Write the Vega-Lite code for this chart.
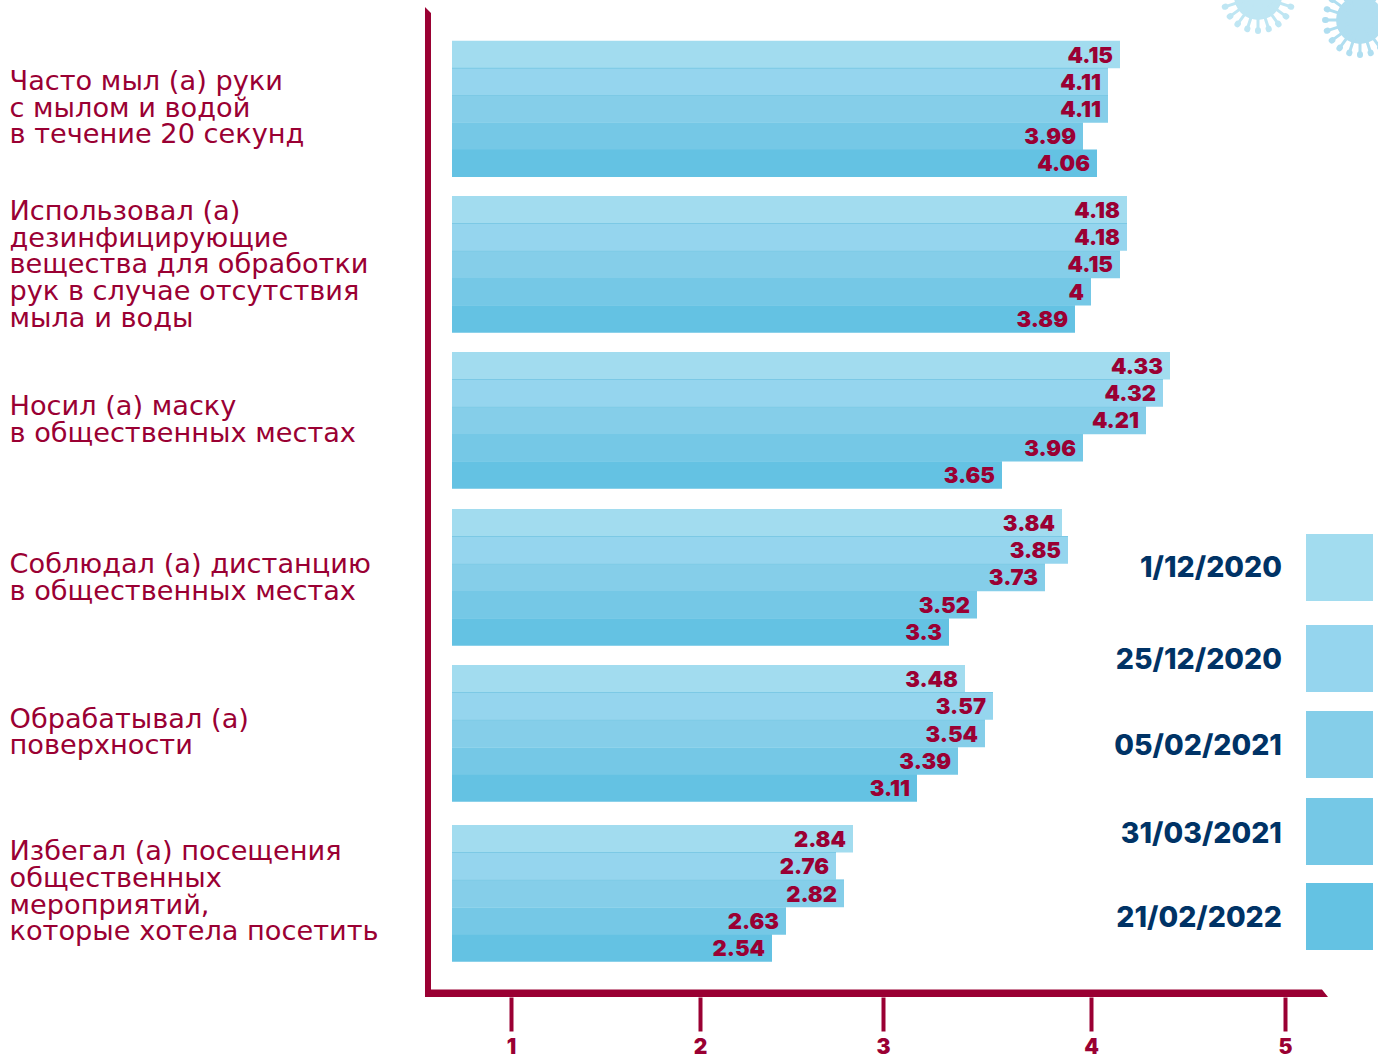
{
"$schema":"https://vega.github.io/schema/vega-lite/v6.json",
"width":1378,"height":1056,"autosize":"none","padding":0,"background":"#ffffff",
"config":{"view":{"stroke":null}},
"datasets":{
"rows":[
{"row":1,"date":"1/12/2020","value":4.15},{"row":2,"date":"25/12/2020","value":4.11},{"row":3,"date":"05/02/2021","value":4.11},{"row":4,"date":"31/03/2021","value":3.99},{"row":5,"date":"21/02/2022","value":4.06},
{"row":6,"date":"1/12/2020","value":4.18},{"row":7,"date":"25/12/2020","value":4.18},{"row":8,"date":"05/02/2021","value":4.15},{"row":9,"date":"31/03/2021","value":4},{"row":10,"date":"21/02/2022","value":3.89},
{"row":11,"date":"1/12/2020","value":4.33},{"row":12,"date":"25/12/2020","value":4.32},{"row":13,"date":"05/02/2021","value":4.21},{"row":14,"date":"31/03/2021","value":3.96},{"row":15,"date":"21/02/2022","value":3.65},
{"row":16,"date":"1/12/2020","value":3.84},{"row":17,"date":"25/12/2020","value":3.85},{"row":18,"date":"05/02/2021","value":3.73},{"row":19,"date":"31/03/2021","value":3.52},{"row":20,"date":"21/02/2022","value":3.3},
{"row":21,"date":"1/12/2020","value":3.48},{"row":22,"date":"25/12/2020","value":3.57},{"row":23,"date":"05/02/2021","value":3.54},{"row":24,"date":"31/03/2021","value":3.39},{"row":25,"date":"21/02/2022","value":3.11},
{"row":26,"date":"1/12/2020","value":2.84},{"row":27,"date":"25/12/2020","value":2.76},{"row":28,"date":"05/02/2021","value":2.82},{"row":29,"date":"31/03/2021","value":2.63},{"row":30,"date":"21/02/2022","value":2.54}
],
"lines":[
{"line":1,"label":"Часто мыл (а) руки"},{"line":2,"label":"с мылом и водой"},{"line":3,"label":"в течение 20 секунд"},
{"line":4,"label":"Использовал (а)"},{"line":5,"label":"дезинфицирующие"},{"line":6,"label":"вещества для обработки"},{"line":7,"label":"рук в случае отсутствия"},{"line":8,"label":"мыла и воды"},
{"line":9,"label":"Носил (а) маску"},{"line":10,"label":"в общественных местах"},
{"line":11,"label":"Соблюдал (а) дистанцию"},{"line":12,"label":"в общественных местах"},
{"line":13,"label":"Обрабатывал (а)"},{"line":14,"label":"поверхности"},
{"line":15,"label":"Избегал (а) посещения"},{"line":16,"label":"общественных"},{"line":17,"label":"мероприятий,"},{"line":18,"label":"которые хотела посетить"}
],
"legend":[{"order":1,"date":"1/12/2020"},{"order":2,"date":"25/12/2020"},{"order":3,"date":"05/02/2021"},{"order":4,"date":"31/03/2021"},{"order":5,"date":"21/02/2022"}],
"ticks":[{"tick":1},{"tick":2},{"tick":3},{"tick":4},{"tick":5}],
"virus":[{"virus":1},{"virus":2}]
},
"resolve":{"scale":{"x":"independent","y":"independent","color":"independent"}},
"layer":[
{"data":{"name":"rows"},"mark":{"type":"bar","orient":"horizontal","height":27.5},
 "encoding":{
  "y":{"field":"row","type":"quantitative","axis":null,"scale":{"domain":[0,1,2,3,4,5,6,7,8,9,10,11,12,13,14,15,16,17,18,19,20,21,22,23,24,25,26,27,28,29,30,31],"range":[27.4,54.6,81.8,109,136.2,163.2,209.7,237,264.4,291.7,319,365.7,393,420.4,447.8,475,522.7,550,577.4,604.8,632,678.7,706,733.5,761,788,838.7,866,893.5,921,948,975.4]}},
  "x":{"field":"value","type":"quantitative","axis":null,"scale":{"domain":[0,2.54,2.63,2.76,2.82,2.84,3.11,3.3,3.39,3.48,3.52,3.54,3.57,3.65,3.73,3.84,3.85,3.89,3.96,3.99,4,4.06,4.11,4.15,4.18,4.21,4.32,4.33],"range":[452,772,786,836,844,853,917,949,958,965,977,985,993,1002,1045,1062,1068,1075,1083,1083,1091,1097,1108,1120,1127,1146,1163,1170]}},
  "x2":{"datum":0},
  "color":{"field":"date","type":"nominal","legend":null,"scale":{"domain":["1/12/2020","25/12/2020","05/02/2021","31/03/2021","21/02/2022"],"range":["#a2dcef","#95d5ee","#85cee9","#75c8e6","#64c2e3"]}}
 }},
{"data":{"name":"rows"},"transform":[{"filter":"datum.date==='25/12/2020'||datum.date==='05/02/2021'"}],
 "mark":{"type":"bar","orient":"horizontal","height":1,"yOffset":-13.5,"color":"#7cc9e5"},
 "encoding":{
  "y":{"field":"row","type":"quantitative","axis":null,"scale":{"domain":[0,1,2,3,4,5,6,7,8,9,10,11,12,13,14,15,16,17,18,19,20,21,22,23,24,25,26,27,28,29,30,31],"range":[27.4,54.6,81.8,109,136.2,163.2,209.7,237,264.4,291.7,319,365.7,393,420.4,447.8,475,522.7,550,577.4,604.8,632,678.7,706,733.5,761,788,838.7,866,893.5,921,948,975.4]}},
  "x":{"field":"value","type":"quantitative","axis":null,"scale":{"domain":[0,2.54,2.63,2.76,2.82,2.84,3.11,3.3,3.39,3.48,3.52,3.54,3.57,3.65,3.73,3.84,3.85,3.89,3.96,3.99,4,4.06,4.11,4.15,4.18,4.21,4.32,4.33],"range":[452,772,786,836,844,853,917,949,958,965,977,985,993,1002,1045,1062,1068,1075,1083,1083,1091,1097,1108,1120,1127,1146,1163,1170]}},
  "x2":{"datum":0}
 }},
{"data":{"name":"rows"},"mark":{"type":"text","align":"right","baseline":"middle","dx":-7,"dy":1,"font":"Inter","fontWeight":900,"fontSize":22,"color":"#9a0033"},
 "encoding":{
  "y":{"field":"row","type":"quantitative","axis":null,"scale":{"domain":[0,1,2,3,4,5,6,7,8,9,10,11,12,13,14,15,16,17,18,19,20,21,22,23,24,25,26,27,28,29,30,31],"range":[27.4,54.6,81.8,109,136.2,163.2,209.7,237,264.4,291.7,319,365.7,393,420.4,447.8,475,522.7,550,577.4,604.8,632,678.7,706,733.5,761,788,838.7,866,893.5,921,948,975.4]}},
  "x":{"field":"value","type":"quantitative","axis":null,"scale":{"domain":[0,2.54,2.63,2.76,2.82,2.84,3.11,3.3,3.39,3.48,3.52,3.54,3.57,3.65,3.73,3.84,3.85,3.89,3.96,3.99,4,4.06,4.11,4.15,4.18,4.21,4.32,4.33],"range":[452,772,786,836,844,853,917,949,958,965,977,985,993,1002,1045,1062,1068,1075,1083,1083,1091,1097,1108,1120,1127,1146,1163,1170]}},
  "text":{"field":"value","type":"quantitative"}
 }},
{"data":{"name":"lines"},"mark":{"type":"text","align":"left","baseline":"middle","font":"DejaVu Sans","fontSize":27.2,"color":"#9a0033"},
 "encoding":{
  "y":{"field":"line","type":"quantitative","axis":null,"scale":{"domain":[1,2,3,4,5,6,7,8,9,10,11,12,13,14,15,16,17,18],"range":[82,108.5,135,212,239,265,292,319,407,434,565,592,720,746,852,879,906,932]}},
  "x":{"datum":0.0069,"scale":{"domain":[0,1],"range":[0,1378]},"axis":null},
  "text":{"field":"label"}
 }},
{"data":{"name":"legend"},"mark":{"type":"point","shape":"square","filled":true,"opacity":1,"strokeWidth":0,"size":4489},
 "encoding":{
  "y":{"field":"order","type":"quantitative","axis":null,"scale":{"domain":[1,2,3,4,5],"range":[567.5,658.5,744.5,831.5,916.5]}},
  "x":{"datum":0.97206,"scale":{"domain":[0,1],"range":[0,1378]},"axis":null},
  "color":{"field":"date","type":"nominal","legend":null,"scale":{"domain":["1/12/2020","25/12/2020","05/02/2021","31/03/2021","21/02/2022"],"range":["#a2dcef","#95d5ee","#85cee9","#75c8e6","#64c2e3"]}}
 }},
{"data":{"name":"legend"},"mark":{"type":"text","align":"right","baseline":"middle","font":"Inter","fontWeight":800,"fontSize":28.5,"color":"#003366"},
 "encoding":{
  "y":{"field":"order","type":"quantitative","axis":null,"scale":{"domain":[1,2,3,4,5],"range":[568,660,745.5,833.5,918]}},
  "x":{"datum":0.9303,"scale":{"domain":[0,1],"range":[0,1378]},"axis":null},
  "text":{"field":"date"}
 }},
{"data":{"name":"ticks"},"mark":{"type":"point","opacity":0},
 "encoding":{
  "x":{"field":"tick","type":"quantitative","scale":{"domain":[1,2,3,4,5],"range":[511,700,883,1091,1285]},
   "axis":{"title":null,"orient":"bottom","offset":-59,"values":[1,2,3,4,5],"format":"d","domain":false,"grid":false,"tickSize":34,"tickWidth":4,"tickColor":"#9a0033","labelFont":"Inter","labelFontWeight":900,"labelFontSize":21,"labelColor":"#9a0033","labelPadding":5,"labelFlush":false,"labelBound":false,"labelOverlap":false}},
  "y":{"datum":0.5,"scale":{"domain":[0,1],"range":[1056,0]},"axis":null}
 }},
{"data":{"values":[{"item":"frame"}]},"mark":{"type":"point","filled":true,"opacity":1,"strokeWidth":0,"color":"#9a0033","size":1000000,"shape":"M-.902 -.99L-.89 -.978L-.89 .975L.892 .975L.904 .99L-.902 .99Z"},
 "encoding":{
  "x":{"datum":0.6357,"scale":{"domain":[0,1],"range":[0,1378]},"axis":null},
  "y":{"datum":0.47538,"scale":{"domain":[0,1],"range":[0,1056]},"axis":null}
 }},
{"data":{"name":"virus"},"mark":{"type":"point","shape":"circle","filled":true,"opacity":1,"strokeWidth":0,"size":2290},
 "encoding":{
  "x":{"field":"virus","type":"quantitative","axis":null,"scale":{"domain":[1,2],"range":[1258,1360]}},
  "y":{"field":"virus","type":"quantitative","axis":null,"scale":{"domain":[1,2],"range":[-4,20]}},
  "color":{"field":"virus","type":"nominal","legend":null,"scale":{"domain":[1,2],"range":["#bfe6f3","#b0def0"]}}
 }},
{"data":{"name":"virus"},"mark":{"type":"point","filled":false,"opacity":1,"strokeWidth":3,"size":5776,"shape":"M-.9 0L.9 0M-.856 -.278L.856 .278M-.728 -.529L.728 .529M-.529 -.728L.529 .728M-.278 -.856L.278 .856M0 -.9L0 .9M.278 -.856L-.278 .856M.529 -.728L-.529 .728M.728 -.529L-.728 .529M.856 -.278L-.856 .278"},
 "encoding":{
  "x":{"field":"virus","type":"quantitative","axis":null,"scale":{"domain":[1,2],"range":[1258,1360]}},
  "y":{"field":"virus","type":"quantitative","axis":null,"scale":{"domain":[1,2],"range":[-4,20]}},
  "stroke":{"field":"virus","type":"nominal","legend":null,"scale":{"domain":[1,2],"range":["#bfe6f3","#b0def0"]}}
 }},
{"data":{"name":"virus"},"mark":{"type":"point","filled":false,"opacity":1,"strokeWidth":6,"strokeCap":"round","size":5776,"shape":"M.9 0L.92 0M.856 .278L.875 .284M.728 .529L.744 .541M.529 .728L.541 .744M.278 .856L.284 .875M0 .9L0 .92M-.278 .856L-.284 .875M-.529 .728L-.541 .744M-.728 .529L-.744 .541M-.856 .278L-.875 .284M-.9 0L-.92 0M-.856 -.278L-.875 -.284M-.728 -.529L-.744 -.541M-.529 -.728L-.541 -.744M-.278 -.856L-.284 -.875M0 -.9L0 -.92M.278 -.856L.284 -.875M.529 -.728L.541 -.744M.728 -.529L.744 -.541M.856 -.278L.875 -.284"},
 "encoding":{
  "x":{"field":"virus","type":"quantitative","axis":null,"scale":{"domain":[1,2],"range":[1258,1360]}},
  "y":{"field":"virus","type":"quantitative","axis":null,"scale":{"domain":[1,2],"range":[-4,20]}},
  "stroke":{"field":"virus","type":"nominal","legend":null,"scale":{"domain":[1,2],"range":["#bfe6f3","#b0def0"]}}
 }}
]
}
